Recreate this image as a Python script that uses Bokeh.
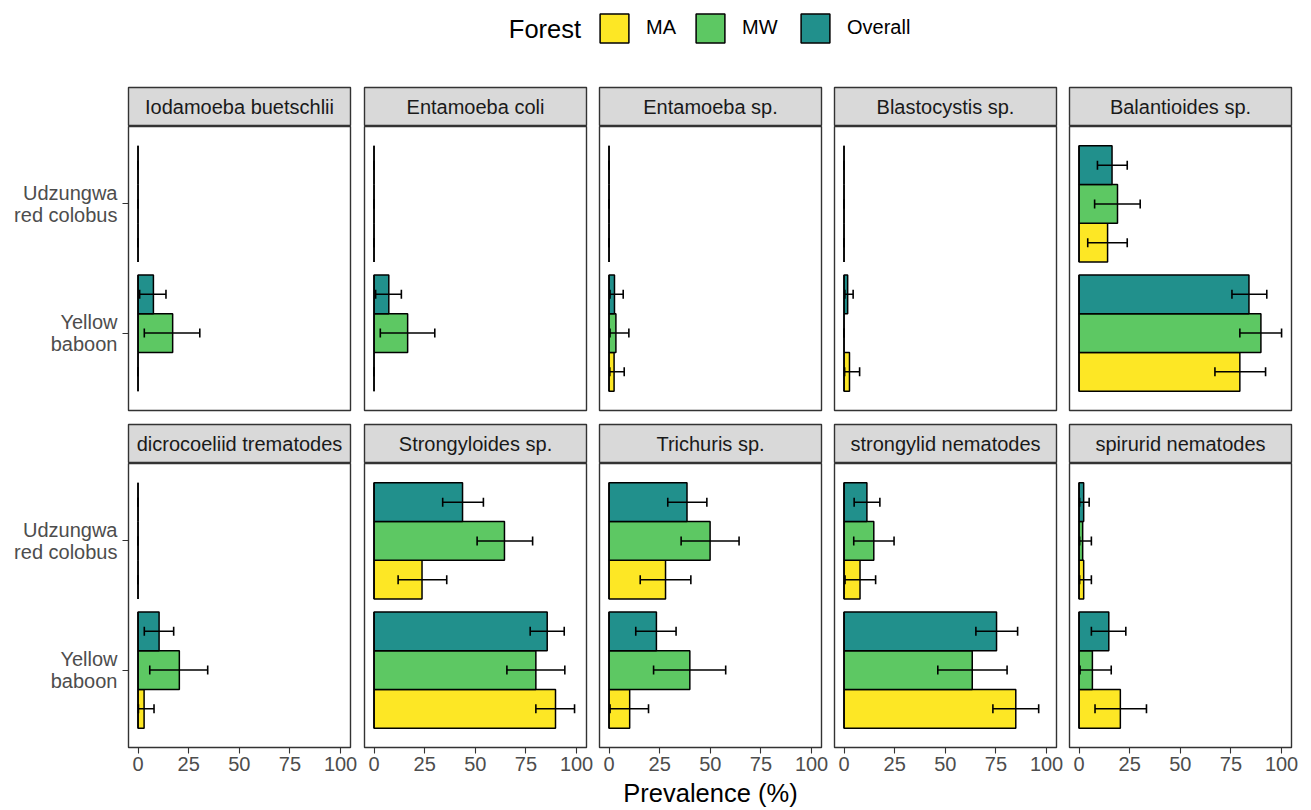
from bokeh.plotting import figure
from bokeh.layouts import column, row
from bokeh.models import (ColumnDataSource, Range1d, FixedTicker, Whisker, TeeHead,
                          Label, Legend, LegendItem)
from bokeh.transform import dodge
from bokeh.embed import file_html
from bokeh.resources import INLINE

FONT = "Liberation Sans"

# ---------------- data ----------------
parasites = ["Iodamoeba buetschlii", "Entamoeba coli", "Entamoeba sp.", "Blastocystis sp.",
             "Balantioides sp.", "dicrocoeliid trematodes", "Strongyloides sp.",
             "Trichuris sp.", "strongylid nematodes", "spirurid nematodes"]
hosts = ["Yellow baboon", "Udzungwa red colobus"]
host_tick_labels = ["Yellow\nbaboon", "Udzungwa\nred colobus"]
forests = ["MA", "MW", "Overall"]
x_ticks = [0, 25, 50, 75, 100]
x_title = "Prevalence (%)"
legend_title = "Forest"

baboon_MA = [0, 0, 2.5, 2.7, 79.4, 3.0, 89.6, 10.2, 84.8, 20.4]
baboon_MA_lo = [0, 0, 0.4, 0.3, 67.1, 0.2, 79.9, 0.5, 73.5, 7.9]
baboon_MA_hi = [0, 0, 7.5, 7.7, 92.1, 7.9, 99.0, 19.5, 96.1, 33.3]

baboon_MW = [17.1, 16.6, 3.4, 0, 89.8, 20.4, 79.9, 39.9, 63.3, 6.6]
baboon_MW_lo = [3.1, 3.1, 0.5, 0, 79.4, 5.8, 65.6, 22.0, 46.3, 0.5]
baboon_MW_hi = [30.5, 30.0, 9.8, 0, 100.0, 34.4, 94.2, 57.6, 80.5, 15.9]

baboon_OV = [7.6, 7.3, 2.7, 1.8, 83.9, 10.4, 85.5, 23.4, 75.3, 14.7]
baboon_OV_lo = [0.8, 0.8, 0.5, 0.4, 75.5, 3.1, 77.1, 13.2, 65.1, 6.1]
baboon_OV_hi = [13.8, 13.5, 7.0, 4.5, 92.7, 17.6, 93.9, 33.1, 85.7, 23.1]

colobus_MA = [0, 0, 0, 0, 14.1, 0, 23.7, 27.9, 7.9, 2.3]
colobus_MA_lo = [0, 0, 0, 0, 4.3, 0, 11.9, 15.4, 0.5, 0.3]
colobus_MA_hi = [0, 0, 0, 0, 23.8, 0, 35.9, 40.4, 15.6, 6.1]

colobus_MW = [0, 0, 0, 0, 19.0, 0, 64.4, 49.9, 14.7, 1.8]
colobus_MW_lo = [0, 0, 0, 0, 7.7, 0, 50.9, 35.6, 4.8, 0.3]
colobus_MW_hi = [0, 0, 0, 0, 30.2, 0, 78.3, 64.2, 24.7, 6.1]

colobus_OV = [0, 0, 0, 0, 16.3, 0, 43.7, 38.5, 11.3, 2.3]
colobus_OV_lo = [0, 0, 0, 0, 9.1, 0, 33.9, 29.0, 5.0, 0.3]
colobus_OV_hi = [0, 0, 0, 0, 23.8, 0, 54.0, 48.3, 17.7, 5.0]

series = {
    "MA": ((baboon_MA, baboon_MA_lo, baboon_MA_hi), (colobus_MA, colobus_MA_lo, colobus_MA_hi)),
    "MW": ((baboon_MW, baboon_MW_lo, baboon_MW_hi), (colobus_MW, colobus_MW_lo, colobus_MW_hi)),
    "Overall": ((baboon_OV, baboon_OV_lo, baboon_OV_hi), (colobus_OV, colobus_OV_lo, colobus_OV_hi)),
}

# ---------------- styles / layout ----------------
forest_colors = {"MA": "#FDE725", "MW": "#5DC863", "Overall": "#21908C"}
forest_offsets = {"MA": -0.3, "MW": 0.0, "Overall": 0.3}
BAR_H = 0.3
FRAME_W = 222
TOTAL_W = 1310
left_borders = [128, 5, 4, 4, 4]
right_borders = [9, 9, 9, 9, 18]
LEGEND_H = 86
STRIP_H = 40
PANEL1_H = 297
PANEL2_H = 317
TITLE_H = 30
GREY20 = "#333333"
GREY30 = "#4D4D4D"
host_pos = [i + 1 for i in range(len(hosts))]


def style_common(p):
    p.background_fill_color = "white"
    p.border_fill_color = "white"
    p.outline_line_color = GREY20
    p.outline_line_width = 1.4
    p.grid.visible = False


def make_panel(col, pidx, bottom):
    lb, rb = left_borders[col], right_borders[col]
    p = figure(width=lb + FRAME_W + rb, height=PANEL2_H if bottom else PANEL1_H,
               x_range=Range1d(-4.7, 104.9), y_range=Range1d(0.4, 2.6),
               x_axis_location="below" if bottom else None,
               y_axis_location="left" if col == 0 else None,
               min_border_left=lb, min_border_right=rb, min_border_top=0,
               min_border_bottom=33 if bottom else 13,
               output_backend="svg", toolbar_location=None)
    style_common(p)
    for f in forests:
        (bv, bl, bh), (cv, cl, ch) = series[f]
        src = ColumnDataSource(dict(host=hosts, host_pos=host_pos,
                                    prev=[bv[pidx], cv[pidx]],
                                    lo=[bl[pidx], cl[pidx]],
                                    hi=[bh[pidx], ch[pidx]]))
        off = forest_offsets[f]
        p.hbar(y=dodge("host_pos", off), left=0, right="prev", height=BAR_H, source=src,
               fill_color=forest_colors[f], line_color="black", line_width=1.5)
        # baseline edge of each bar (visible also when the bar has zero length)
        p.segment(x0=0, x1=0, y0=dodge("host_pos", off - BAR_H / 2),
                  y1=dodge("host_pos", off + BAR_H / 2), source=src,
                  line_color="black", line_width=1.5)
        w = Whisker(source=src, base=dodge("host_pos", off),
                    lower="lo", upper="hi", dimension="width",
                    line_color="black", line_width=1.6, level="annotation",
                    upper_head=TeeHead(size=9, line_color="black", line_width=1.6),
                    lower_head=TeeHead(size=9, line_color="black", line_width=1.6))
        p.add_layout(w)
    if bottom:
        ax = p.xaxis[0]
        ax.ticker = FixedTicker(ticks=x_ticks)
        ax.major_tick_out = 6
        ax.major_tick_in = 0
        ax.major_tick_line_color = GREY20
        ax.major_tick_line_width = 1.1
        ax.minor_tick_line_color = None
        ax.axis_line_color = None
        ax.major_label_standoff = 3
        ax.major_label_text_font = FONT
        ax.major_label_text_font_size = "20px"
        ax.major_label_text_color = GREY30
    if col == 0:
        ay = p.yaxis[0]
        ay.ticker = FixedTicker(ticks=host_pos)
        ay.major_label_overrides = {hp: lab for hp, lab in zip(host_pos, host_tick_labels)}
        ay.major_tick_out = 6
        ay.major_tick_in = 0
        ay.major_tick_line_color = GREY20
        ay.major_tick_line_width = 1.1
        ay.minor_tick_line_color = None
        ay.axis_line_color = None
        ay.major_label_standoff = 5
        ay.major_label_text_font = FONT
        ay.major_label_text_font_size = "20px"
        ay.major_label_text_color = GREY30
        ay.major_label_text_line_height = 1.02
    return p


def make_strip(col, pidx):
    lb, rb = left_borders[col], right_borders[col]
    s = figure(width=lb + FRAME_W + rb, height=STRIP_H, x_range=Range1d(0, 1), y_range=Range1d(0, 1),
               x_axis_location=None, y_axis_location=None,
               min_border_left=lb, min_border_right=rb, min_border_top=1, min_border_bottom=0,
               output_backend="svg", toolbar_location=None)
    s.grid.visible = False
    s.background_fill_color = "#D9D9D9"
    s.border_fill_color = "white"
    s.outline_line_color = GREY20
    s.outline_line_width = 1.4
    s.add_layout(Label(x=0.5, y=0.5, text=parasites[pidx], text_align="center",
                       text_baseline="middle", text_font=FONT, text_font_size="20px",
                       text_color="#1A1A1A"))
    return s


def pixel_figure(h):
    f = figure(width=TOTAL_W, height=h, x_range=Range1d(0, TOTAL_W), y_range=Range1d(0, h),
               x_axis_location=None, y_axis_location=None, min_border=0,
               output_backend="svg", toolbar_location=None)
    f.grid.visible = False
    f.outline_line_color = None
    f.background_fill_color = "white"
    f.border_fill_color = "white"
    return f


# legend figure (1 data unit = 1 pixel, y measured upward)
lf = pixel_figure(LEGEND_H)
lf.add_layout(Label(x=508.3, y=LEGEND_H - 28.3, text=legend_title, text_font=FONT,
                    text_font_size="25.5px", text_baseline="middle", text_align="left",
                    text_color="black"))
legend_x = {"MA": 596, "MW": 692, "Overall": 797}
for f in forests:
    # proxy renderer without drawable data: it only supplies the key style
    r = lf.hbar(y=[float("nan")], left=[float("nan")], right=[float("nan")], height=1,
                fill_color=forest_colors[f], line_color="black", line_width=1.5)
    leg = Legend(items=[LegendItem(label=f, renderers=[r])], location=(legend_x[f], LEGEND_H - 45.5),
                 orientation="horizontal", glyph_width=36, glyph_height=36,
                 label_standoff=14, padding=0, margin=0, border_line_color=None,
                 background_fill_alpha=0, label_text_font=FONT, label_text_font_size="20px",
                 label_height=36, label_text_color="black")
    lf.add_layout(leg)

# x-axis title figure
tf = pixel_figure(TITLE_H)
tf.add_layout(Label(x=710, y=TITLE_H - 12, text=x_title, text_align="center",
                    text_baseline="middle", text_font=FONT, text_font_size="25.5px",
                    text_color="black"))

strips1 = row(*[make_strip(c, c) for c in range(5)])
panels1 = row(*[make_panel(c, c, False) for c in range(5)])
strips2 = row(*[make_strip(c, 5 + c) for c in range(5)])
panels2 = row(*[make_panel(c, 5 + c, True) for c in range(5)])

layout = column(lf, strips1, panels1, strips2, panels2, tf)

open("out.html", "w").write(file_html(layout, INLINE))
